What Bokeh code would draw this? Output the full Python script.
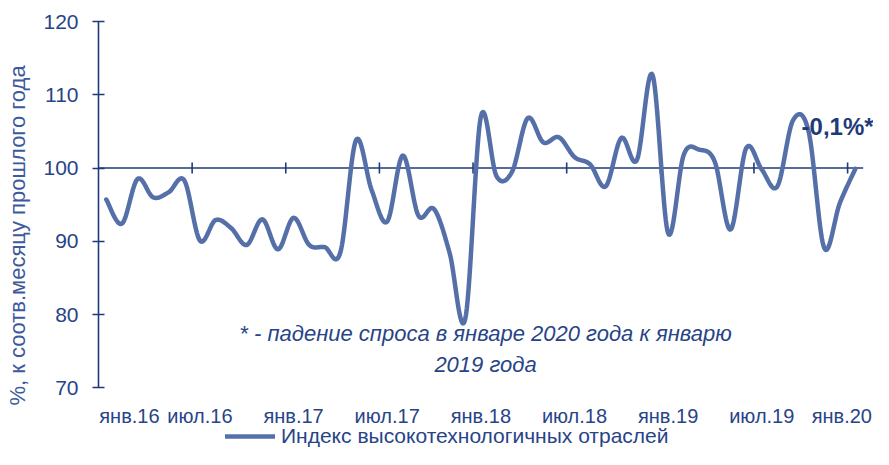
import numpy as np
from bokeh.plotting import figure
from bokeh.models import Range1d, FixedTicker, Label, Legend, LegendItem
from bokeh.core.properties import value
from bokeh.embed import file_html
from bokeh.resources import INLINE

# ---- data (monthly index, % to same month of previous year), Jan 2016 .. Jan 2020
values = [95.7, 92.4, 98.5, 96.0, 96.7, 98.3, 90.1, 92.9, 91.8, 89.5, 93.0, 88.9,
          93.2, 89.5, 89.2, 88.5, 103.8, 97.0, 92.7, 101.7, 93.5, 94.4, 88.4, 79.4,
          107.0, 98.9, 99.5, 106.8, 103.5, 104.2, 101.5, 100.5, 97.5, 104.1, 101.1, 112.7,
          91.1, 101.8, 102.5, 100.8, 91.6, 102.7, 99.8, 97.5, 106.5, 105.0, 89.1, 95.2,
          99.9]
tick_positions = [0, 6, 12, 18, 24, 30, 36, 42, 48]
tick_labels = ["янв.16", "июл.16", "янв.17", "июл.17", "янв.18", "июл.18",
               "янв.19", "июл.19", "янв.20"]
y_ticks = [70, 80, 90, 100, 110, 120]
series_name = "Индекс высокотехнологичных отраслей"
y_title = "%, к соотв.месяцу прошлого года"
note_line1 = "* - падение спроса в январе 2020 года к январю"
note_line2 = "2019 года"
last_label = "-0,1%*"

FONT = "Liberation Sans"
NAVY = "#1f3a7a"
TEXT = "#274487"
LINE = "#5570a8"

Y_MIN, Y_MAX = 70, 120          # value axis extent
Y_VIEW_MIN = 61.58              # extra room below the axis for category labels and legend
Y_CAT_LABELS = 66.1             # vertical place of the category labels
X_LO = -0.5
X_HI = 49.16                    # a little room right of the last category for the note

n = len(values)
xs = np.arange(n, dtype=float)
ys = np.array(values, dtype=float)


def smooth(x, y, steps=20):
    """Catmull-Rom style Bezier smoothing (like Excel smoothed lines)."""
    px = np.concatenate([[x[0]], x, [x[-1]]])
    py = np.concatenate([[y[0]], y, [y[-1]]])
    ox, oy = [], []
    t = np.linspace(0, 1, steps, endpoint=False)
    for i in range(1, len(px) - 2):
        p0 = np.array([px[i], py[i]])
        p3 = np.array([px[i + 1], py[i + 1]])
        p1 = p0 + (np.array([px[i + 1], py[i + 1]]) - np.array([px[i - 1], py[i - 1]])) / 6
        p2 = p3 - (np.array([px[i + 2], py[i + 2]]) - np.array([px[i], py[i]])) / 6
        b = ((1 - t) ** 3)[:, None] * p0 + (3 * (1 - t) ** 2 * t)[:, None] * p1 \
            + (3 * (1 - t) * t ** 2)[:, None] * p2 + (t ** 3)[:, None] * p3
        ox.extend(b[:, 0]); oy.extend(b[:, 1])
    ox.append(x[-1]); oy.append(y[-1])
    return ox, oy


sx, sy = smooth(xs, ys)

p = figure(width=873, height=449, x_range=Range1d(X_LO, X_HI),
           y_range=Range1d(Y_VIEW_MIN, Y_MAX), x_axis_location=None,
           output_backend="svg", toolbar_location=None,
           min_border_left=98, min_border_right=0, min_border_top=21, min_border_bottom=0)
p.outline_line_color = None
p.xgrid.visible = False
p.ygrid.visible = False
p.background_fill_color = "white"
p.border_fill_color = "white"

# y axis
ya = p.yaxis[0]
ya.bounds = (Y_MIN, Y_MAX)
ya.ticker = FixedTicker(ticks=y_ticks)
ya.major_tick_in = 6
ya.major_tick_out = 6
ya.minor_tick_line_color = None
ya.axis_line_color = NAVY
ya.axis_line_width = 1.6
ya.major_tick_line_color = NAVY
ya.major_tick_line_width = 1.6
ya.major_label_text_font = FONT
ya.major_label_text_font_size = "21px"
ya.major_label_text_color = TEXT
ya.major_label_standoff = 14
ya.axis_label = y_title
ya.axis_label_text_font = FONT
ya.axis_label_text_font_size = "22px"
ya.axis_label_text_font_style = "normal"
ya.axis_label_text_color = "#3c5a9b"
ya.axis_label_standoff = 10

# horizontal category axis line crossing at 100 with tick marks between categories
p.segment(x0=[X_LO], x1=[n - 0.5], y0=[100], y1=[100], line_color=NAVY, line_width=1.6)
boundaries = [t - 0.5 for t in tick_positions[1:]]
p.scatter(x=boundaries, y=[100] * len(boundaries), marker="dash", angle=np.pi / 2,
          size=11, line_color=NAVY, line_width=1.6)

# category labels under the value axis (edge labels kept inside the drawing area)
lab_x = list(tick_positions)
lab_align = ["center"] * len(tick_positions)
lab_x[0], lab_align[0] = X_LO + 0.05, "left"
lab_x[-1], lab_align[-1] = X_HI - 0.1, "right"
p.text(x=lab_x, y=[Y_CAT_LABELS] * len(tick_positions), text=tick_labels,
       text_font=value(FONT), text_font_size="20px", text_color=TEXT,
       text_align=lab_align, text_baseline="middle")

r = p.line(sx, sy, line_color=LINE, line_width=4.5, line_join="round", line_cap="round")

legend = Legend(items=[LegendItem(label=series_name, renderers=[r])],
                location=(127, 1), border_line_color=None, background_fill_alpha=0,
                padding=0, margin=0, spacing=0, glyph_width=50, glyph_height=22,
                label_height=22, label_standoff=6, label_text_font=FONT,
                label_text_font_size="21px", label_text_color=TEXT,
                label_text_baseline="middle")
p.add_layout(legend)

p.add_layout(Label(x=44.55, y=105.6, text=last_label, text_font=FONT, text_font_size="24px",
                   text_font_style="bold", text_color=NAVY, text_baseline="alphabetic"))
p.add_layout(Label(x=24.3, y=77.4, text=note_line1, text_font=FONT, text_font_size="22px",
                   text_font_style="italic", text_color=TEXT, text_align="center",
                   text_baseline="middle"))
p.add_layout(Label(x=24.3, y=73.2, text=note_line2, text_font=FONT, text_font_size="22px",
                   text_font_style="italic", text_color=TEXT, text_align="center",
                   text_baseline="middle"))

open("out.html", "w").write(file_html(p, INLINE))
